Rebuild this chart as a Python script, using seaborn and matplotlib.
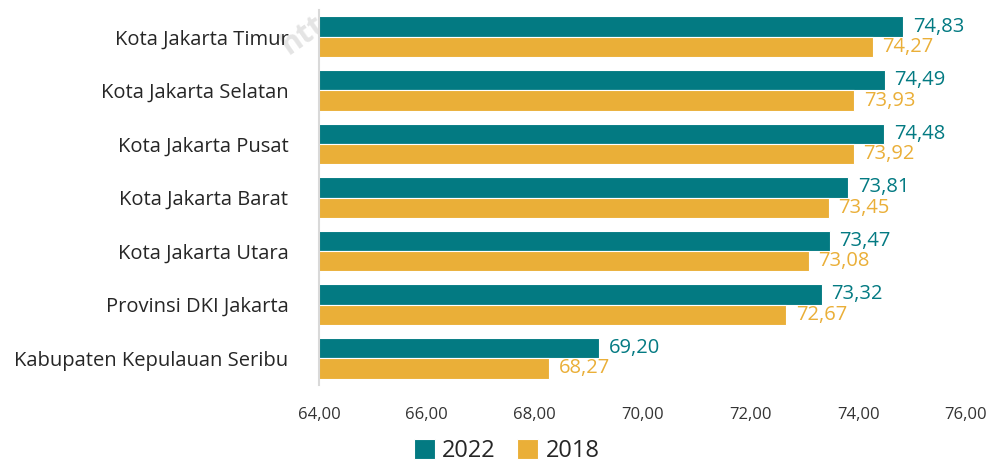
import pandas as pd
import matplotlib.pyplot as plt
import seaborn as sns

regions = [
    "Kota Jakarta Timur",
    "Kota Jakarta Selatan",
    "Kota Jakarta Pusat",
    "Kota Jakarta Barat",
    "Kota Jakarta Utara",
    "Provinsi DKI Jakarta",
    "Kabupaten Kepulauan Seribu",
]
v2022 = [74.83, 74.49, 74.48, 73.81, 73.47, 73.32, 69.20]
v2018 = [74.27, 73.93, 73.92, 73.45, 73.08, 72.67, 68.27]
years = ["2022", "2018"]
colors = {"2022": "#037A82", "2018": "#EAAF38"}

df = pd.DataFrame(
    {
        "region": regions * 2,
        "year": ["2022"] * len(regions) + ["2018"] * len(regions),
        "value": v2022 + v2018,
    }
)

sns.set_theme(style="white")
plt.rcParams["font.family"] = ["Open Sans", "DejaVu Sans"]

fig = plt.figure(figsize=(9.93, 4.69), dpi=100)
ax = fig.add_axes([319 / 993, 1 - 385 / 469, 647 / 993, 375 / 469])
ax.patch.set_alpha(0)

sns.barplot(
    data=df,
    x="value",
    y="region",
    hue="year",
    hue_order=years,
    order=regions,
    palette=colors,
    saturation=1,
    orient="h",
    width=0.76,
    edgecolor="white",
    linewidth=0.8,
    ax=ax,
)

# value labels next to bar ends
for cont, yr in zip(ax.containers, years):
    ax.bar_label(
        cont,
        labels=[f"{v:.2f}".replace(".", ",") for v in cont.datavalues],
        padding=7,
        color=colors[yr],
        fontsize=14.5,
    )

ax.set_xlim(64, 76)
ax.set_ylim(len(regions) - 0.5, -0.5)
ax.set_xticks(range(64, 77, 2))
ax.set_xticklabels([f"{t},00" for t in range(64, 77, 2)], fontsize=12, color="#333333")
ax.tick_params(axis="x", pad=16, length=0)
ax.tick_params(axis="y", labelsize=14.5, length=0, pad=22, labelcolor="#262626")
ax.set_xlabel("")
ax.set_ylabel("")

for s in ["top", "right", "bottom"]:
    ax.spines[s].set_visible(False)
ax.spines["left"].set_color("#d9d9d9")
ax.spines["left"].set_linewidth(1.5)

leg = ax.legend(
    loc="lower center",
    bbox_to_anchor=(0.29, -0.265),
    ncol=2,
    frameon=False,
    fontsize=17,
    handlelength=0.9,
    handleheight=0.9,
    handletextpad=0.3,
    columnspacing=0.9,
)
for t in leg.get_texts():
    t.set_color("#262626")

# faint watermark behind everything
fig.text(0.305, 0.925, "htt", rotation=35, fontsize=22, color="#e4e4e4",
         fontweight="bold", ha="center", va="center", zorder=-1)

fig.savefig("out.png", dpi=100)
